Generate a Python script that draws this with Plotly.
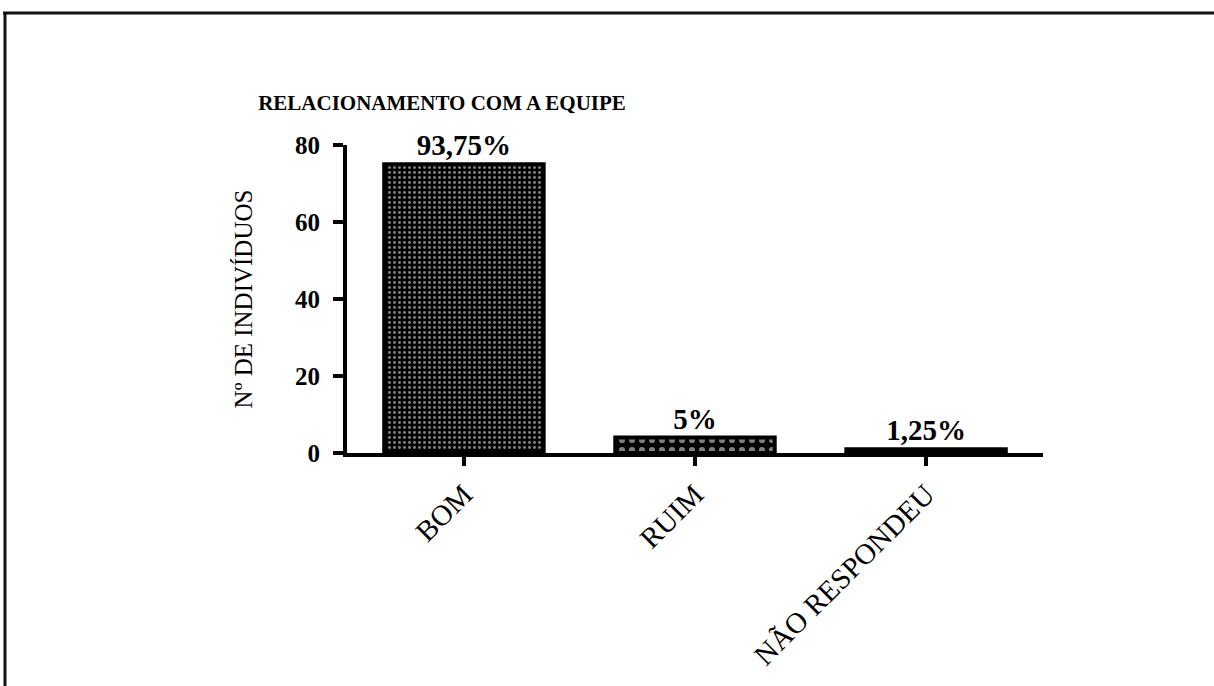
import plotly.graph_objects as go

# ---- data ----
categories = ["BOM", "RUIM", "NÃO RESPONDEU"]
counts = [75, 4, 1]
percent_labels = ["93,75%", "5%", "1,25%"]
y_ticks = [0, 20, 40, 60, 80]

W, H = 1214, 686
L, R, T, B = 347, 171, 145, 233
pw, ph = W - L - R, H - T - B

serif = "Liberation Serif, Times New Roman, serif"

fig = go.Figure(
    go.Bar(
        x=categories,
        y=counts,
        width=0.69,
        text=percent_labels,
        textposition="outside",
        textfont=dict(family=serif, size=29, color="black", weight="bold"),
        cliponaxis=False,
        marker=dict(
            color="black",
            line=dict(color="black", width=4),
            pattern=dict(
                shape=[".", ".", ""],
                fgcolor="white",
                bgcolor="black",
                size=[5, 10, 5],
                solidity=[0.28, 0.3, 0.3],
            ),
        ),
    )
)

fig.update_layout(
    width=W,
    height=H,
    margin=dict(l=L, r=R, t=T, b=B, pad=0),
    paper_bgcolor="white",
    plot_bgcolor="white",
    showlegend=False,
    bargap=0.31,
    title=dict(
        text="<b>RELACIONAMENTO COM A EQUIPE</b>",
        font=dict(family=serif, size=21, color="black"),
        x=442 / W,
        xanchor="center",
        xref="container",
        y=1 - 103 / H,
        yanchor="middle",
        yref="container",
    ),
    shapes=[
        # outer frame (top and left edges of the scanned figure)
        dict(type="line", xref="paper", yref="paper",
             x0=(3 - L) / pw, x1=(W - L) / pw,
             y0=(H - B - 13) / ph, y1=(H - B - 13) / ph,
             line=dict(color="#111", width=3)),
        dict(type="line", xref="paper", yref="paper",
             x0=(5 - L) / pw, x1=(5 - L) / pw,
             y0=(H - B - 13) / ph, y1=(H - B - H) / ph,
             line=dict(color="#111", width=3)),
    ],
)

fig.update_xaxes(
    range=[-0.506, 2.506],
    showline=True,
    linecolor="black",
    linewidth=4,
    ticks="outside",
    ticklen=9,
    tickwidth=4,
    tickcolor="black",
    tickangle=-45,
    tickfont=dict(family=serif, size=29, color="black"),
    showgrid=False,
    zeroline=False,
)

fig.update_yaxes(
    range=[0, 80],
    tickvals=y_ticks,
    showline=True,
    linecolor="black",
    linewidth=4,
    ticks="outside",
    ticklen=10,
    tickwidth=4,
    tickcolor="black",
    ticklabelstandoff=8,
    tickfont=dict(family=serif, size=25, color="black", weight="bold"),
    showgrid=False,
    zeroline=False,
    title=dict(
        text="Nº DE INDIVÍDUOS",
        font=dict(family=serif, size=25, color="black"),
        standoff=36,
    ),
)

fig.write_html(
    "out.html",
    config={"displayModeBar": False},
    post_script="document.body.style.margin='0';",
)
